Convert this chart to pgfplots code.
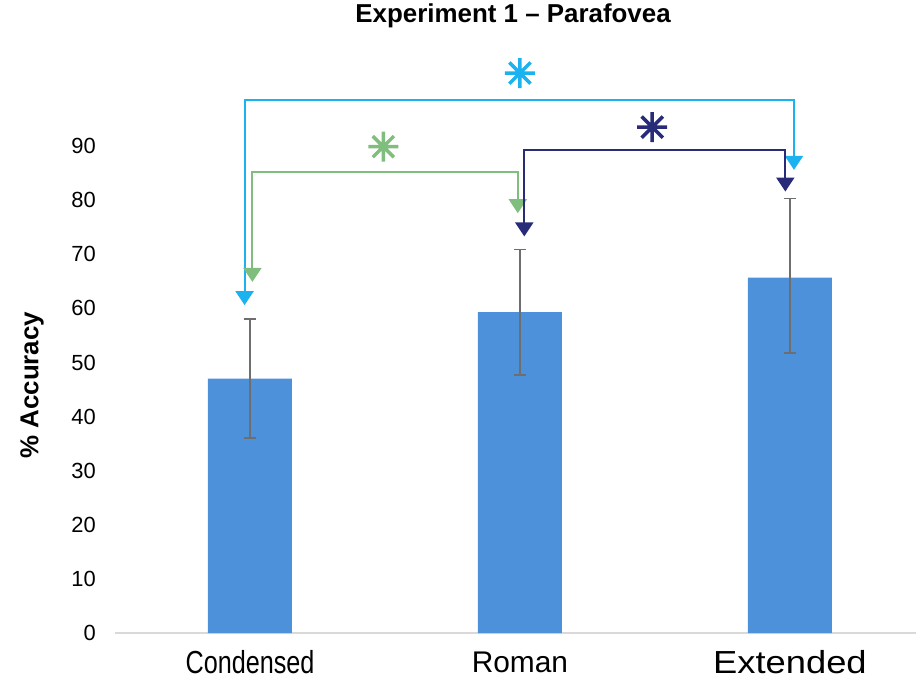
\documentclass[border=0pt]{standalone}
\usepackage{pgfplots}
\pgfplotsset{compat=1.18}
\usepackage{fontspec}
\setmainfont{Liberation Sans}
\usepackage{graphicx}
\usetikzlibrary{arrows.meta,calc}

\definecolor{barblue}{RGB}{76,145,218}
\definecolor{sigcyan}{RGB}{28,178,240}
\definecolor{siggreen}{RGB}{128,190,125}
\definecolor{signavy}{RGB}{40,44,120}
\definecolor{errgrey}{RGB}{110,110,110}
\definecolor{basegrey}{RGB}{217,217,217}

% eight-spoked asterisk used for the significance markers
\pgfdeclareplotmark{spoke8}{%
  \pgfpathmoveto{\pgfqpointpolar{0}{\pgfplotmarksize}}%
  \pgfpathlineto{\pgfqpointpolar{180}{\pgfplotmarksize}}%
  \pgfpathmoveto{\pgfqpointpolar{45}{\pgfplotmarksize}}%
  \pgfpathlineto{\pgfqpointpolar{225}{\pgfplotmarksize}}%
  \pgfpathmoveto{\pgfqpointpolar{90}{\pgfplotmarksize}}%
  \pgfpathlineto{\pgfqpointpolar{270}{\pgfplotmarksize}}%
  \pgfpathmoveto{\pgfqpointpolar{135}{\pgfplotmarksize}}%
  \pgfpathlineto{\pgfqpointpolar{315}{\pgfplotmarksize}}%
  \pgfusepathqstroke}

\tikzset{sig/.style={line width=2bp, line join=miter,
  {Triangle[width=18bp,length=14bp]}-{Triangle[width=18bp,length=14bp]}}}

\begin{document}
\begin{tikzpicture}
\begin{axis}[
  name=ax,
  scale only axis,
  width=801bp, height=541bp,
  xmin=-0.5, xmax=2.467,
  ymin=0, ymax=100,
  clip=false,
  axis x line=bottom, axis y line=left,
  x axis line style={-, draw=basegrey, line width=2bp},
  y axis line style={draw=none},
  major tick length=0pt,
  xtick={0,1,2},
  xticklabels={%
    {\scalebox{0.79}[1]{\fontsize{32}{34}\selectfont Condensed}},
    {\fontsize{30}{32}\selectfont Roman},
    {\scalebox{1.14}[1]{\fontsize{32}{34}\selectfont Extended}}},
  xticklabel style={inner sep=0pt, anchor=center, yshift=-29bp},
  ytick={0,10,...,90},
  yticklabel style={inner sep=0pt, anchor=east, xshift=-19bp,
    font=\fontsize{22}{24}\selectfont},
  /pgf/number format/assume math mode=true,
  ylabel={\% Accuracy},
  ylabel style={at={(axis description cs:-0.1036,0.458)}, anchor=center,
    font=\fontsize{26}{28}\selectfont\bfseries},
  title={Experiment 1 – Parafovea},
  title style={at={(axis description cs:0.497,1.129)}, anchor=center,
    font=\fontsize{26}{28}\selectfont\bfseries},
]
% mean accuracy with error bars
\addplot[ybar, bar width=84bp, fill=barblue, draw=none,
  error bars/.cd, y dir=both, y explicit,
  error bar style={errgrey, line width=1.5bp},
  error mark options={rotate=90, mark size=6bp, line width=1.5bp, errgrey}]
  coordinates {
    (0,47.0)   +- (0,11.0)
    (1,59.3)   +- (0,11.6)
    (2,65.7)   += (0,14.6) -= (0,13.9)
  };

% significance brackets
\draw[sig, sigcyan]
  (axis cs:-0.020,60.6) -- (axis cs:-0.020,98.5) -- (axis cs:2.015,98.5) -- (axis cs:2.015,85.6);
\draw[sig, siggreen]
  (axis cs:0.009,64.9) -- (axis cs:0.009,85.3) -- (axis cs:0.992,85.3) -- (axis cs:0.992,77.6);
\draw[sig, signavy]
  (axis cs:1.016,73.3) -- (axis cs:1.016,89.2) -- (axis cs:1.983,89.2) -- (axis cs:1.983,81.6);

% significance markers
\addplot[only marks, mark=spoke8, mark size=15bp, sigcyan, line width=3.5bp]
  coordinates {(1.0,103.5)};
\addplot[only marks, mark=spoke8, mark size=15bp, siggreen, line width=3.5bp]
  coordinates {(0.494,89.9)};
\addplot[only marks, mark=spoke8, mark size=15bp, signavy, line width=3.5bp]
  coordinates {(1.49,93.5)};
\end{axis}
\pgfresetboundingbox
\path ($(ax.south west)+(-115bp,-50bp)$) rectangle ++(916bp,683bp);
\end{tikzpicture}
\end{document}
